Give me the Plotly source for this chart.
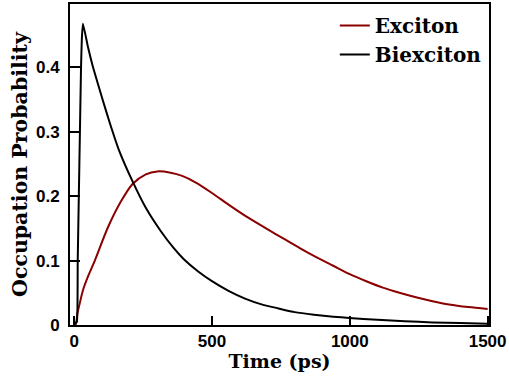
import plotly.graph_objects as go

# Data (time in ps, occupation probability)
biex_t = [0, 5, 10, 13, 17, 21, 25, 28, 32, 50, 68, 104, 130, 164, 212, 260, 314, 360, 398, 450, 500, 560, 620, 680, 739, 800, 870, 940, 998, 1100, 1200, 1300, 1400, 1500]
biex_p = [0.002, 0.003, 0.005, 0.10, 0.20, 0.30, 0.40, 0.445, 0.468, 0.432, 0.401, 0.349, 0.313, 0.270, 0.223, 0.182, 0.146, 0.120, 0.102, 0.083, 0.068, 0.053, 0.041, 0.032, 0.026, 0.020, 0.016, 0.013, 0.011, 0.008, 0.006, 0.004, 0.003, 0.002]

exc_t = [0, 5, 12, 20, 32, 50, 75, 122, 170, 212, 260, 302, 350, 392, 440, 500, 560, 630, 704, 760, 820, 880, 940, 1000, 1060, 1120, 1180, 1240, 1300, 1360, 1430, 1500]
exc_p = [0.0, 0.0, 0.018, 0.033, 0.054, 0.075, 0.100, 0.151, 0.192, 0.219, 0.234, 0.2385, 0.2365, 0.2315, 0.2215, 0.205, 0.187, 0.167, 0.148, 0.134, 0.119, 0.105, 0.092, 0.079, 0.068, 0.058, 0.050, 0.043, 0.037, 0.032, 0.028, 0.025]

x_ticks = [0, 500, 1000, 1500]
y_ticks = [0, 0.1, 0.2, 0.3, 0.4]
y_tick_text = ["0", "0.1", "0.2", "0.3", "0.4"]

fig = go.Figure()
fig.add_trace(go.Scatter(x=exc_t, y=exc_p, mode="lines", name="Exciton",
                         line=dict(color="#8b0000", width=2, shape="spline", smoothing=0.8)))
fig.add_trace(go.Scatter(x=biex_t, y=biex_p, mode="lines", name="Biexciton",
                         line=dict(color="black", width=2, shape="spline", smoothing=0.4)))

tick_font = dict(family="Liberation Sans", size=17, color="black", weight="bold")

fig.update_layout(
    width=509, height=378,
    margin=dict(l=70, r=16, t=2, b=53),
    paper_bgcolor="white", plot_bgcolor="white",
    showlegend=True,
    legend=dict(x=0.632, y=0.994, xanchor="left", yanchor="top",
                font=dict(family="DejaVu Serif", size=20, color="black", weight="bold"),
                bgcolor="rgba(0,0,0,0)", borderwidth=0, tracegroupgap=0),
    xaxis=dict(range=[-15, 1505], tickvals=x_ticks, ticks="inside", ticklen=9, tickwidth=1.5,
               tickcolor="black", showline=True, linecolor="black", linewidth=2, mirror=True,
               showgrid=False, zeroline=False, tickfont=tick_font, ticklabeloverflow="allow",
               title=dict(text="Time (ps)",
                          font=dict(family="DejaVu Serif", size=19, color="black", weight="bold"),
                          standoff=4)),
    yaxis=dict(range=[0, 0.4985], tickvals=y_ticks, ticktext=y_tick_text, ticks="inside", ticklen=10,
               tickwidth=1.5, tickcolor="black", showline=True, linecolor="black", linewidth=2,
               mirror=True, showgrid=False, zeroline=False, tickfont=tick_font,
               ticklabelstandoff=5,
               title=dict(text="Occupation Probability",
                          font=dict(family="DejaVu Serif", size=20.5, color="black", weight="bold"),
                          standoff=3)),
)

fig.write_html("out.html", config={"displayModeBar": False},
               post_script="document.body.style.margin='0';")
